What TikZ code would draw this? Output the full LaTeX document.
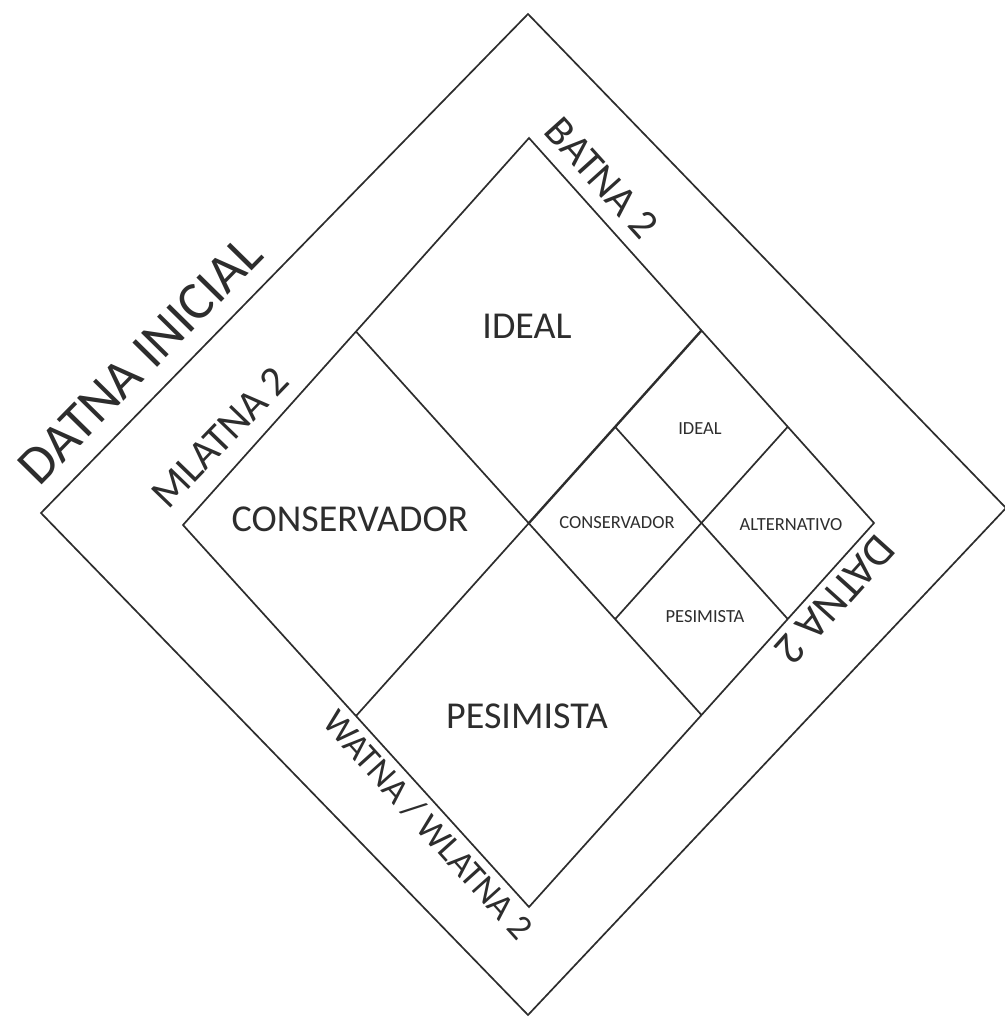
\documentclass[tikz,border=0pt]{standalone}
\usepackage{fontspec}
\setmainfont{Carlito}
\usetikzlibrary{calc}
\definecolor{myline}{RGB}{45,45,45}

\begin{document}
\begin{tikzpicture}[x=1pt,y=-1pt,
  edge/.style={draw=myline,line width=1.7pt,line join=miter},
  bigtxt/.style={text=myline,font=\fontsize{38}{40}\selectfont,inner sep=0pt},
  smalltxt/.style={text=myline,font=\fontsize{18.5}{20}\selectfont,inner sep=0pt},
  sidetxt/.style={text=myline,font=\fontsize{42}{44}\selectfont,inner sep=0pt}]
\useasboundingbox (0,0) rectangle (1004,1017);

% outer diamond
\coordinate (oT) at (528,14);
\coordinate (oR) at (1006,508);
\coordinate (oB) at (528,1015);
\coordinate (oL) at (41,513);
% inner diamond
\coordinate (iT) at (529,138);
\coordinate (iR) at (874,523);
\coordinate (iB) at (529,907);
\coordinate (iL) at (183,525);
% quadrants
\coordinate (mUL) at ($(iL)!0.5!(iT)$);
\coordinate (mUR) at ($(iT)!0.5!(iR)$);
\coordinate (mLR) at ($(iR)!0.5!(iB)$);
\coordinate (mLL) at ($(iB)!0.5!(iL)$);
\coordinate (C) at ($(mUL)!0.5!(mLR)$);
% right quadrant split
\coordinate (sA) at ($(C)!0.5!(mUR)$);
\coordinate (sB) at ($(mUR)!0.5!(iR)$);
\coordinate (sD) at ($(iR)!0.5!(mLR)$);
\coordinate (sE) at ($(mLR)!0.5!(C)$);

\draw[edge] (oT) -- (oR) -- (oB) -- (oL) -- cycle;
\draw[edge] (iT) -- (iR) -- (iB) -- (iL) -- cycle;
\draw[edge] (mUL) -- (mLR);
\draw[edge] (mLL) -- (C);
\draw[edge,line width=2.4pt] (C) -- (mUR);
\draw[edge] (sA) -- (sD);
\draw[edge] (sB) -- (sE);

\node[bigtxt] (ideal) at (527,326) {IDEAL};
\node[bigtxt] (conserv) at (350,519) {CONSERVADOR};
\node[bigtxt] (pesim) at (527,716) {PESIMISTA};

\node[smalltxt] (idealb) at (700,429) {IDEAL};
\node[smalltxt] (conservb) at (617,523) {CONSERVADOR};
\node[smalltxt] (altern) at (791,525) {ALTERNATIVO};
\node[smalltxt] (pesimb) at (705,617) {PESIMISTA};

\node[sidetxt,font=\fontsize{54}{56}\selectfont,rotate=45.5] (datnaini) at (140,360) {DATNA INICIAL};
\node[sidetxt,rotate=46] (mlatna) at (220,437) {MLATNA 2};
\node[sidetxt,rotate=-48] (batna) at (602,178) {BATNA 2};
\node[sidetxt,font=\fontsize{44}{46}\selectfont,rotate=228] (datna) at (835,600) {DATNA 2};
\node[sidetxt,font=\fontsize{36}{38}\selectfont,rotate=-48] (watna) at (428,825) {WATNA / WLATNA 2};
\end{tikzpicture}
\end{document}
